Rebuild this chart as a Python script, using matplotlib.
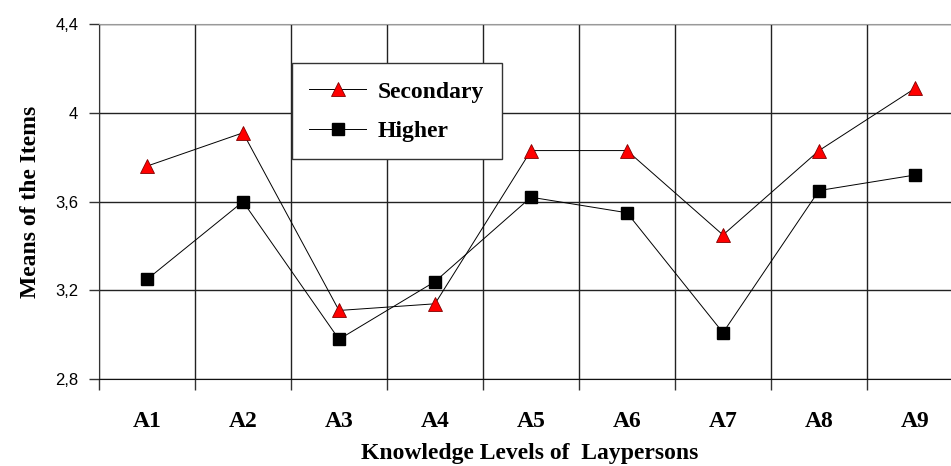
import matplotlib.pyplot as plt

# Means of the items per knowledge level
categories = ["A1", "A2", "A3", "A4", "A5", "A6", "A7", "A8", "A9"]
secondary = [3.76, 3.91, 3.11, 3.14, 3.83, 3.83, 3.45, 3.83, 4.11]
higher = [3.25, 3.60, 2.98, 3.24, 3.62, 3.55, 3.01, 3.65, 3.72]
y_ticks = [2.8, 3.2, 3.6, 4.0, 4.4]
y_tick_labels = ["2,8", "3,2", "3,6", "4", "4,4"]

serif = "Liberation Serif"
sans = "Liberation Sans"

fig = plt.figure(figsize=(9.51, 4.66), dpi=100)
# plot area runs past the right edge of the picture, like the original
ax = fig.add_axes([99 / 951, 1 - 379.3 / 466, 864 / 951, 355.3 / 466])

x = list(range(len(categories)))
ax.plot(x, secondary, color="black", lw=0.7, marker="^", markersize=10,
        markerfacecolor="red", markeredgecolor="#800000", markeredgewidth=0.6,
        label="Secondary", zorder=3)
ax.plot(x, higher, color="black", lw=0.7, marker="s", markersize=9,
        markerfacecolor="black", markeredgecolor="black",
        label="Higher", zorder=3)

ax.set_xlim(-0.5, len(categories) - 0.5)
ax.set_ylim(2.8, 4.4)

# category boundaries as major ticks / grid, names as minor ticks
ax.set_xticks([i - 0.5 for i in range(len(categories) + 1)])
ax.set_xticklabels([])
ax.set_xticks(x, minor=True)
ax.set_xticklabels(categories, minor=True, fontfamily=serif,
                   fontweight="bold", fontsize=17)
ax.tick_params(axis="x", which="major", direction="out", length=8,
               width=1, color="#333333")
ax.tick_params(axis="x", which="minor", length=0, pad=23)

ax.set_yticks(y_ticks)
ax.set_yticklabels(y_tick_labels, fontfamily=sans, fontsize=12)
ax.tick_params(axis="y", direction="out", length=7, width=1,
               color="#333333", pad=8)

ax.grid(True, which="major", color="#222222", lw=1)
ax.set_axisbelow(True)

ax.spines["right"].set_visible(False)
ax.spines["top"].set_color("#999999")
ax.spines["left"].set_color("#333333")
ax.spines["bottom"].set_color("#111111")

ax.set_ylabel("Means of the Items", fontfamily=serif, fontweight="bold",
              fontsize=17, labelpad=10)
fig.text(530 / 951, 1 - 459 / 466, "Knowledge Levels of  Laypersons",
         fontfamily=serif, fontweight="bold", fontsize=17,
         ha="center", va="baseline")

leg = ax.legend(loc="upper left", bbox_to_anchor=(291.7 / 951, 1 - 63.3 / 466),
                bbox_transform=fig.transFigure, borderaxespad=0,
                fancybox=False, framealpha=1, edgecolor="#333333",
                prop={"family": serif, "weight": "bold", "size": 17},
                handlelength=2.4, handletextpad=0.5, labelspacing=0.75,
                borderpad=0.75)
leg.get_frame().set_linewidth(1)

fig.savefig("out.png", dpi=100)
